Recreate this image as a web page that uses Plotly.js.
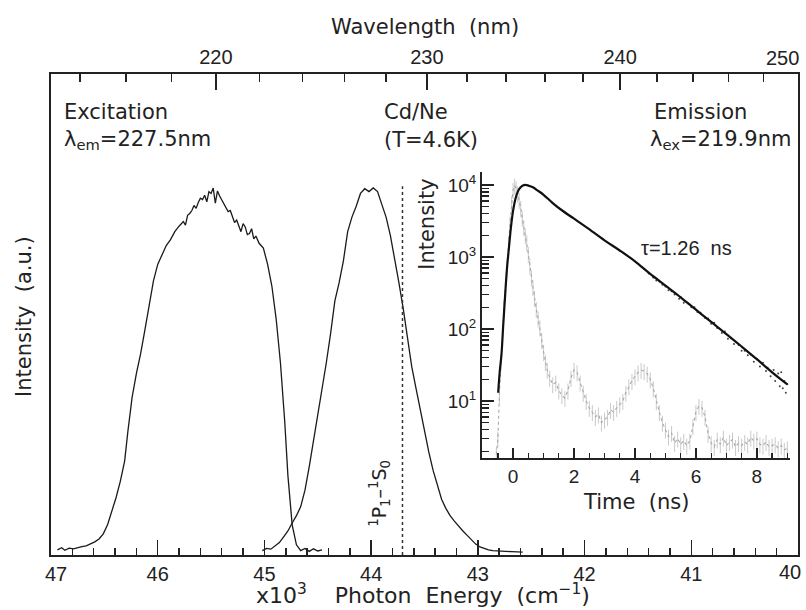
<!DOCTYPE html>
<html><head><meta charset="utf-8">
<script src="https://cdn.plot.ly/plotly-3.0.1.min.js"></script>
<style>html,body{margin:0;padding:0;background:#fff}#chart{width:806px;height:610px}</style>
</head><body><div id="chart"></div>
<script>
// ---- Main spectra (photon energy in 10^3 cm^-1, normalised intensity) ----
const excE = [46.94,46.90,46.87,46.83,46.79,46.75,46.71,46.67,46.63,46.59,
  46.55,46.51,46.47,46.43,46.39,46.35,46.31,46.28,46.24,46.20,
  46.16,46.12,46.08,46.04,46.00,45.96,45.92,45.88,45.84,45.80,
  45.78,45.76,45.74,45.72,45.70,45.68,45.66,45.64,45.62,45.60,
  45.58,45.56,45.54,45.52,45.50,45.48,45.46,45.44,45.42,45.40,
  45.38,45.36,45.34,45.32,45.30,45.28,45.26,45.24,45.22,45.20,
  45.18,45.16,45.14,45.12,45.10,45.08,45.05,45.01,44.97,44.93,
  44.89,44.85,44.81,44.78,44.74,44.70,44.66,44.62,44.58,44.54,
  44.50,44.46];
const excI = [0.006,0.012,0.005,0.011,0.009,0.013,0.015,0.017,0.022,0.028,
  0.036,0.050,0.075,0.110,0.150,0.195,0.250,0.330,0.425,0.490,
  0.545,0.610,0.680,0.745,0.790,0.815,0.842,0.858,0.880,0.895,
  0.902,0.908,0.898,0.925,0.930,0.938,0.952,0.944,0.960,0.972,
  0.968,0.980,0.962,0.990,0.985,1.000,0.958,0.992,0.978,0.968,
  0.955,0.948,0.935,0.938,0.922,0.905,0.912,0.896,0.880,0.902,
  0.893,0.872,0.875,0.888,0.860,0.868,0.848,0.835,0.790,0.730,
  0.640,0.520,0.360,0.210,0.075,0.020,0.004,0.010,0.002,0.009,
  0.003,0.006];

const emE = [45.02,44.98,44.94,44.90,44.86,44.82,44.78,44.74,44.70,44.66,
  44.62,44.58,44.54,44.50,44.46,44.42,44.38,44.34,44.30,44.26,
  44.22,44.18,44.14,44.10,44.06,44.02,43.98,43.94,43.90,43.86,
  43.82,43.78,43.74,43.70,43.66,43.62,43.58,43.54,43.50,43.46,
  43.42,43.38,43.34,43.30,43.26,43.22,43.18,43.14,43.10,43.06,
  43.02,42.98,42.94,42.90,42.86,42.82,42.76,42.68,42.58];
const emI = [0.004,0.010,0.008,0.016,0.026,0.042,0.058,0.080,0.100,0.125,
  0.170,0.235,0.305,0.380,0.450,0.520,0.600,0.690,0.740,0.800,
  0.880,0.920,0.950,0.985,0.998,0.990,1.000,0.990,0.955,0.920,
  0.870,0.810,0.740,0.670,0.590,0.510,0.450,0.390,0.330,0.275,
  0.225,0.185,0.145,0.120,0.100,0.085,0.070,0.058,0.046,0.034,
  0.022,0.014,0.009,0.006,0.004,0.003,0.002,0.001,0.000];

// ---- Inset: time-resolved decay (ns, counts) ----
const decayT = [-0.49,-0.44,-0.38,-0.32,-0.26,-0.20,-0.14,-0.07,0.00,0.08,
  0.16,0.24,0.32,0.40,0.50,0.65,0.80,1.00,1.30,1.60,
  2.00,2.40,3.00,3.50,4.00,4.50,5.00,5.50,6.00,6.50,
  7.00,7.50,8.00,8.50,9.00];
const decayI = [13,25,45,120,300,700,1300,2600,4400,6500,
  8200,9200,9800,10000,9800,9300,8400,7300,5600,4450,
  3400,2600,1700,1230,870,580,400,275,185,125,
  85,57,38,25,17];
const decayScatterT = [4.3,4.45,4.6,4.7,4.8,4.9,5.0,5.1,5.2,5.3,
  5.45,5.5,5.6,5.75,5.85,5.95,6.05,6.15,6.3,6.4,
  6.5,6.6,6.7,6.85,6.95,7.05,7.15,7.25,7.4,7.5,
  7.6,7.7,7.8,7.9,8.0,8.1,8.2,8.3,8.35,8.45,
  8.55,8.6,8.7,8.75,8.8,8.85,8.9,8.95,9.0];
const decayScatterI = [680,590,520,470,455,410,390,345,335,300,
  262,275,232,226,200,200,172,168,142,140,
  118,122,103,88,92,73,74,62,60,50,
  50,43,44,35,38,30,34,26,29,22,
  27,19,24,16,25,15,19,13,17];
const irfT = [-0.55,-0.50,-0.45,-0.40,-0.35,-0.30,-0.25,-0.20,-0.15,-0.10,
  -0.05,0.00,0.05,0.10,0.15,0.20,0.25,0.30,0.35,0.40,
  0.45,0.50,0.55,0.60,0.65,0.70,0.76,0.82,0.88,0.94,
  1.00,1.06,1.12,1.20,1.30,1.40,1.50,1.60,1.70,1.80,
  1.90,2.00,2.10,2.20,2.30,2.40,2.50,2.60,2.70,2.80,
  2.90,3.00,3.10,3.20,3.30,3.40,3.50,3.60,3.70,3.80,
  3.90,4.00,4.10,4.20,4.30,4.40,4.50,4.60,4.70,4.80,
  4.90,5.00,5.10,5.20,5.30,5.40,5.50,5.60,5.70,5.80,
  5.90,6.00,6.10,6.20,6.30,6.40,6.50,6.60,6.70,6.80,
  6.90,7.00,7.10,7.20,7.30,7.40,7.50,7.60,7.70,7.80,
  7.90,8.00,8.10,8.20,8.30,8.40,8.50,8.60,8.70,8.80,
  8.90,9.00];
const irfI = [1.8,3,12,35,90,200,400,700,1500,3000,
  5600,8500,9800,9000,7600,6200,4800,3500,2600,2000,
  1600,1100,750,520,380,270,190,140,105,70,
  48,35,27,21,17,18,14,12,11,14,
  21,27,25,18,13,10,8,7,6,6.5,
  5,5.5,6,7.5,7,8,9,10,13,16,
  19,22,25,27,26,24,20,15,10,7,
  5,4,3.2,3.6,2.6,3,2.5,2.8,2.4,2.8,
  4.5,7,8.5,8,6,3.5,2.6,2.3,2.9,2.5,
  3.1,2.4,2.7,2.9,2.3,2.6,2.4,2.7,2.5,3.1,
  2.8,3.0,2.5,2.4,2.7,2.3,2.4,2.5,2.2,2.4,
  2.1,2.2];

// ---- Axis tick labels ----
const energyTicks = [47,46,45,44,43,42,41,40];
const energyTickText = ['\u200247','46','45','44','43','42','41',''];   // '40' drawn at the edge below
const energyEdgeLabel = '40';
const energyMinor = [46.8,46.6,46.4,46.2,45.8,45.6,45.4,45.2,44.8,44.6,44.4,44.2,
  43.8,43.6,43.4,43.2,42.8,42.6,42.4,42.2,41.8,41.6,41.4,41.2,40.8,40.6,40.4,40.2];
const wlTicks = [220,230,240,250];
const wlTickText = ['220','230','240',''];   // '250' drawn at the edge below
const wlEdgeLabel = '250';
const wlMinor = [214,216,218,222,224,226,228,232,234,236,238,242,244,246,248];
const transitionNm = 228.8;
const timeTicks = [0,2,4,6,8];
const timeMinor = [-1,-0.5,0.5,1,1.5,2.5,3,3.5,4.5,5,5.5,6.5,7,7.5,8.5,9];
const logTicks = [10,100,1000,10000];
const logTickText = ['10<sup>1</sup>','10<sup>2</sup>','10<sup>3</sup>','10<sup>4</sup>'];
const logMinor = [2,3,4,5,6,7,8,9,20,30,40,50,60,70,80,90,200,300,400,500,600,700,800,900,
  2000,3000,4000,5000,6000,7000,8000,9000];

const toEnergy = nm => 1e4 / nm; // 10^3 cm^-1
const TXT = '#222';
const TITLEF = 'DejaVu Sans, sans-serif';
const TICKF = 'Liberation Sans, Arial, sans-serif';

const traces = [
  {x: excE, y: excI, mode: 'lines', line: {color: '#1a1a1a', width: 1.3}, xaxis: 'x', yaxis: 'y'},
  // same range as x, drawn on the top (wavelength) axis so that axis is rendered
  {x: emE, y: emI, mode: 'lines', line: {color: '#1a1a1a', width: 1.3}, xaxis: 'x2', yaxis: 'y'},
  {x: irfT, y: irfI, mode: 'lines', line: {color: '#a8a8a8', width: 1.1, dash: 'dot'},
   error_y: {type: 'percent', value: 25, color: '#c4c4c4', thickness: 0.9, width: 0},
   xaxis: 'x3', yaxis: 'y3'},
  {x: decayScatterT, y: decayScatterI, mode: 'markers', marker: {color: '#444', size: 2},
   xaxis: 'x3', yaxis: 'y3'},
  {x: decayT, y: decayI, mode: 'lines', line: {color: '#111', width: 2.2, shape: 'spline'},
   xaxis: 'x3', yaxis: 'y3'}
];

const lineE = toEnergy(transitionNm);

const layout = {
  width: 806, height: 610,
  margin: {l: 51, r: 8, t: 74, b: 55},
  paper_bgcolor: '#fff', plot_bgcolor: 'rgba(0,0,0,0)',
  showlegend: false,
  font: {family: TICKF, color: TXT},
  xaxis: {
    range: [47, 40], domain: [0, 1], anchor: 'y', side: 'bottom',
    showline: true, linecolor: '#222', linewidth: 2, mirror: false,
    showgrid: false, zeroline: false,
    tickmode: 'array', tickvals: energyTicks, ticktext: energyTickText,
    ticks: 'inside', ticklen: 15, tickwidth: 1.5, tickcolor: '#222',
    tickfont: {family: TICKF, size: 20, color: TXT},
    minor: {tickmode: 'array', tickvals: energyMinor, ticks: 'inside', ticklen: 7, tickwidth: 1.5, tickcolor: '#222', showgrid: false}
  },
  xaxis2: {
    range: [47, 40], overlaying: 'x', anchor: 'y', side: 'top',
    showline: true, linecolor: '#222', linewidth: 2,
    showgrid: false, zeroline: false,
    tickmode: 'array', tickvals: wlTicks.map(toEnergy), ticktext: wlTickText,
    ticks: 'inside', ticklen: 16, tickwidth: 1.5, tickcolor: '#222',
    tickfont: {family: TICKF, size: 20, color: TXT},
    minor: {tickmode: 'array', tickvals: wlMinor.map(toEnergy), ticks: 'inside', ticklen: 8, tickwidth: 1.5, tickcolor: '#222', showgrid: false}
  },
  yaxis: {
    range: [-0.008, 1.313], domain: [0, 1], anchor: 'x',
    showline: true, mirror: true, linecolor: '#222', linewidth: 2,
    showgrid: false, zeroline: false, ticks: '', showticklabels: false
  },
  xaxis3: {
    range: [-1.02, 9.08], domain: [0.577, 0.989], anchor: 'y3',
    showline: true, linecolor: '#222', linewidth: 2, showgrid: false, zeroline: false,
    tickmode: 'array', tickvals: timeTicks, ticktext: timeTicks.map(String),
    ticks: 'inside', ticklen: 10, tickwidth: 1.5, tickcolor: '#222',
    tickfont: {family: TICKF, size: 19, color: TXT},
    minor: {tickmode: 'array', tickvals: timeMinor, ticks: 'inside', ticklen: 5, tickwidth: 1.3, tickcolor: '#222', showgrid: false}
  },
  yaxis3: {
    type: 'log', range: [0.208, 4.18], domain: [0.2017, 0.7963], anchor: 'x3',
    showline: true, linecolor: '#222', linewidth: 2, showgrid: false, zeroline: false,
    tickmode: 'array', tickvals: logTicks, ticktext: logTickText,
    ticks: 'inside', ticklen: 12, tickwidth: 1.5, tickcolor: '#222',
    tickfont: {family: TICKF, size: 19, color: TXT},
    minor: {tickmode: 'array', tickvals: logMinor, ticks: 'inside', ticklen: 7, tickwidth: 1.2, tickcolor: '#222', showgrid: false}
  },
  shapes: [
    {type: 'line', xref: 'x', yref: 'y', x0: lineE, x1: lineE, y0: -0.008, y1: 1.005,
     line: {color: '#333', width: 1.5, dash: 'dot'}}
  ],
  annotations: [
    {text: energyEdgeLabel, xref: 'x', yref: 'paper', x: energyTicks[energyTicks.length - 1], y: -0.035, xanchor: 'right', yanchor: 'middle', xshift: 5, showarrow: false, font: {family: TICKF, size: 20, color: TXT}},
    {text: wlEdgeLabel, xref: 'x', yref: 'paper', x: toEnergy(wlTicks[wlTicks.length - 1]), y: 1.034, xanchor: 'right', yanchor: 'middle', xshift: 3, showarrow: false, font: {family: TICKF, size: 20, color: TXT}},
    {text: 'Wavelength  (nm)', xref: 'paper', yref: 'paper', x: 0.5007, y: 1.0977, xanchor: 'center', yanchor: 'middle', showarrow: false, font: {family: TITLEF, size: 21, color: TXT}},
    {text: 'x10<sup>3</sup>    Photon  Energy  (cm<sup>\u22121</sup>)', xref: 'paper', yref: 'paper', x: 0.498, y: -0.082, xanchor: 'center', yanchor: 'middle', showarrow: false, font: {family: TITLEF, size: 22, color: TXT}},
    {text: 'Intensity  (a.u.)', xref: 'paper', yref: 'paper', x: -0.036, y: 0.495, xanchor: 'center', yanchor: 'middle', textangle: -90, showarrow: false, font: {family: TITLEF, size: 21, color: TXT}},
    {text: 'Excitation', xref: 'paper', yref: 'paper', x: 0.0147, y: 0.921, xanchor: 'left', yanchor: 'middle', showarrow: false, font: {family: TITLEF, size: 21, color: TXT}},
    {text: '\u03bb<sub>em</sub>=227.5nm', xref: 'paper', yref: 'paper', x: 0.0147, y: 0.863, xanchor: 'left', yanchor: 'middle', showarrow: false, font: {family: TITLEF, size: 21, color: TXT}},
    {text: 'Cd/Ne', xref: 'paper', yref: 'paper', x: 0.443, y: 0.921, xanchor: 'left', yanchor: 'middle', showarrow: false, font: {family: TITLEF, size: 21, color: TXT}},
    {text: '(T=4.6K)', xref: 'paper', yref: 'paper', x: 0.443, y: 0.863, xanchor: 'left', yanchor: 'middle', showarrow: false, font: {family: TITLEF, size: 21, color: TXT}},
    {text: 'Emission', xref: 'paper', yref: 'paper', x: 0.8046, y: 0.921, xanchor: 'left', yanchor: 'middle', showarrow: false, font: {family: TITLEF, size: 21, color: TXT}},
    {text: '\u03bb<sub>ex</sub>=219.9nm', xref: 'paper', yref: 'paper', x: 0.799, y: 0.863, xanchor: 'left', yanchor: 'middle', showarrow: false, font: {family: TITLEF, size: 21, color: TXT}},
    {text: '<sup>1</sup>P<sub>1</sub>\u2013<sup>1</sup>S<sub>0</sub>', xref: 'x', yref: 'y', x: 43.917, y: 0.16, xanchor: 'center', yanchor: 'middle', textangle: -90, showarrow: false, font: {family: TITLEF, size: 19, color: TXT}},
    {text: 'Intensity', xref: 'paper', yref: 'paper', x: 0.503, y: 0.688, xanchor: 'center', yanchor: 'middle', textangle: -90, showarrow: false, font: {family: TITLEF, size: 21, color: TXT}},
    {text: 'Time  (ns)', xref: 'paper', yref: 'paper', x: 0.783, y: 0.110, xanchor: 'center', yanchor: 'middle', showarrow: false, font: {family: TITLEF, size: 21, color: TXT}},
    {text: '\u03c4=1.26  ns', xref: 'paper', yref: 'paper', x: 0.851, y: 0.638, xanchor: 'center', yanchor: 'middle', showarrow: false, font: {family: TICKF, size: 20, color: TXT}}
  ]
};

Plotly.newPlot('chart', traces, layout, {displayModeBar: false, staticPlot: true});
</script></body></html>
